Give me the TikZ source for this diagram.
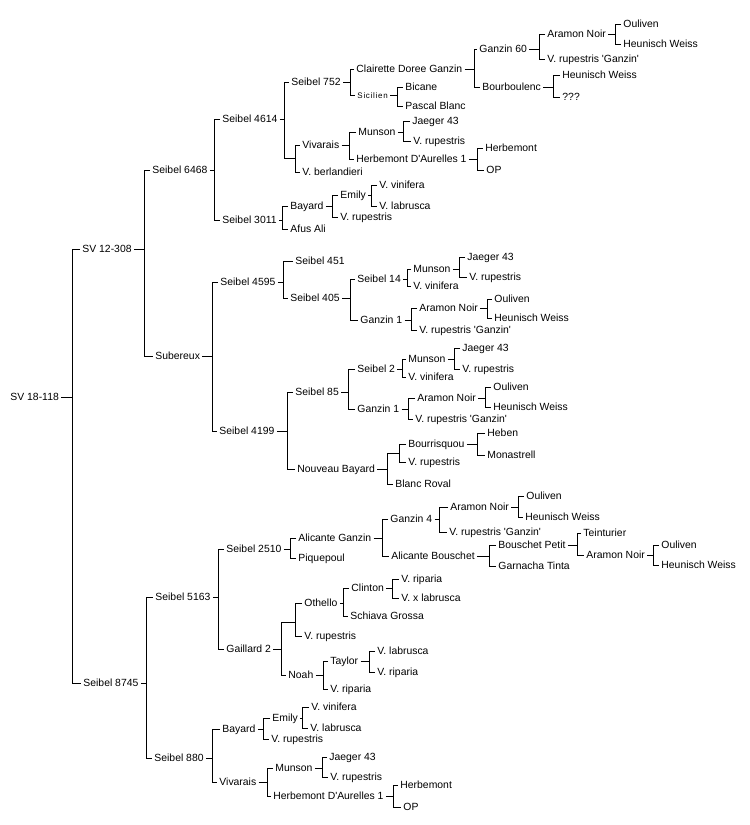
\documentclass[tikz,border=0pt]{standalone}
\usepackage{fontspec}
\setmainfont{Liberation Sans}
\newfontfamily\sicfont[LetterSpace=9]{Liberation Sans}
\usepackage{tikz}

\tikzset{nd/.style={anchor=west,inner xsep=2pt,inner ysep=0pt,xshift=-2pt,text height=7.4pt,text depth=0pt,font=\fontsize{10.4}{12}\selectfont},
jn/.style={inner sep=0pt,minimum size=0pt}}
% bracket from a cultivar to its two parents, vertical bar at x=#2
\newcommand\pedbr[4]{\draw (#1.east) -- (#2pt,0pt |- #1.east) (#3.west) -| (#2pt,0pt |- #4.west) -- (#4.west);}
\newcommand\q{\textquotesingle}

\begin{document}
\begin{tikzpicture}[x=1pt,y=-1pt,line width=0.9pt]
\useasboundingbox (0,0) rectangle (750,825);

\node[nd] (sv18) at (10,397) {SV 18-118};
\node[nd] (sv12) at (82,249) {SV 12-308};
\node[nd] (s8745) at (83,683) {Seibel 8745};
\pedbr{sv18}{72}{sv12}{s8745}

\node[nd] (s6468) at (152,170) {Seibel 6468};
\node[nd] (sub) at (155,356) {Subereux};
\pedbr{sv12}{144}{s6468}{sub}

\node[nd] (s4614) at (222,119) {Seibel 4614};
\node[nd] (s3011) at (222,220) {Seibel 3011};
\pedbr{s6468}{214}{s4614}{s3011}

\node[nd] (s752) at (291,82) {Seibel 752};
\node[jn] (j1) at (295,158) {};
\pedbr{s4614}{284}{s752}{j1}

\node[nd] (cdg) at (356,69) {Clairette Doree Ganzin};
\node[nd,font=\sicfont\fontsize{8}{10}\selectfont] (sic) at (357,95) {Sicilien};
\pedbr{s752}{350}{cdg}{sic}

\node[nd] (g60) at (479,49) {Ganzin 60};
\node[nd] (bourb) at (482,87) {Bourboulenc};
\pedbr{cdg}{474}{g60}{bourb}

\node[nd] (an1) at (547,34) {Aramon Noir};
\node[nd] (vrg1) at (547,59) {V. rupestris \q Ganzin\q};
\pedbr{g60}{539}{an1}{vrg1}

\node[nd] (oul1) at (623,24) {Ouliven};
\node[nd] (hw1) at (623,44) {Heunisch Weiss};
\pedbr{an1}{615}{oul1}{hw1}

\node[nd] (hw2) at (562,75) {Heunisch Weiss};
\node[nd] (unk) at (562,97) {???};
\pedbr{bourb}{553}{hw2}{unk}

\node[nd] (bic) at (405,87) {Bicane};
\node[nd] (pb) at (405,106) {Pascal Blanc};
\pedbr{sic}{397}{bic}{pb}

\node[nd] (viv1) at (302,145) {Vivarais};
\node[nd] (berl) at (302,172) {V. berlandieri};
\pedbr{j1}{295}{viv1}{berl}

\node[nd] (mun1) at (358,132) {Munson};
\node[nd] (hda1) at (356,159) {Herbemont D\q Aurelles 1};
\pedbr{viv1}{349}{mun1}{hda1}

\node[nd] (j43a) at (412,121) {Jaeger 43};
\node[nd] (vr1) at (413,141) {V. rupestris};
\pedbr{mun1}{403}{j43a}{vr1}

\node[nd] (herb1) at (485,148) {Herbemont};
\node[nd] (op1) at (486,170) {OP};
\pedbr{hda1}{477}{herb1}{op1}

\node[nd] (bay1) at (290,206) {Bayard};
\node[nd] (afus) at (290,229) {Afus Ali};
\pedbr{s3011}{282}{bay1}{afus}

\node[nd] (emi1) at (340,195) {Emily};
\node[nd] (vr2) at (340,217) {V. rupestris};
\pedbr{bay1}{332}{emi1}{vr2}

\node[nd] (vv1) at (379,185) {V. vinifera};
\node[nd] (vl1) at (379,206) {V. labrusca};
\pedbr{emi1}{371}{vv1}{vl1}

\node[nd] (s4595) at (220,282) {Seibel 4595};
\node[nd] (s4199) at (219,431) {Seibel 4199};
\pedbr{sub}{212}{s4595}{s4199}

\node[nd] (s451) at (295,261) {Seibel 451};
\node[nd] (s405) at (290,298) {Seibel 405};
\pedbr{s4595}{283}{s451}{s405}

\node[nd] (s14) at (357,279) {Seibel 14};
\node[nd] (g1a) at (360,320) {Ganzin 1};
\pedbr{s405}{350}{s14}{g1a}

\node[nd] (mun2) at (413,269) {Munson};
\node[nd] (vv2) at (413,286) {V. vinifera};
\pedbr{s14}{407}{mun2}{vv2}

\node[nd] (j43b) at (467,257) {Jaeger 43};
\node[nd] (vr3) at (469,277) {V. rupestris};
\pedbr{mun2}{459}{j43b}{vr3}

\node[nd] (an2) at (419,308) {Aramon Noir};
\node[nd] (vrg2) at (419,330) {V. rupestris \q Ganzin\q};
\pedbr{g1a}{411}{an2}{vrg2}

\node[nd] (oul2) at (494,299) {Ouliven};
\node[nd] (hw3) at (494,318) {Heunisch Weiss};
\pedbr{an2}{487}{oul2}{hw3}

\node[nd] (s85) at (295,392) {Seibel 85};
\node[nd] (nb) at (297,469) {Nouveau Bayard};
\pedbr{s4199}{287}{s85}{nb}

\node[nd] (s2) at (357,369) {Seibel 2};
\node[nd] (g1b) at (357,409) {Ganzin 1};
\pedbr{s85}{348}{s2}{g1b}

\node[nd] (mun3) at (408,359) {Munson};
\node[nd] (vv3) at (408,377) {V. vinifera};
\pedbr{s2}{402}{mun3}{vv3}

\node[nd] (j43c) at (462,348) {Jaeger 43};
\node[nd] (vr4) at (462,369) {V. rupestris};
\pedbr{mun3}{454}{j43c}{vr4}

\node[nd] (an3) at (417,398) {Aramon Noir};
\node[nd] (vrg3) at (415,419) {V. rupestris \q Ganzin\q};
\pedbr{g1b}{408}{an3}{vrg3}

\node[nd] (oul3) at (493,387) {Ouliven};
\node[nd] (hw4) at (493,407) {Heunisch Weiss};
\pedbr{an3}{485}{oul3}{hw4}

\node[jn] (j2) at (399,453) {};
\node[nd] (br) at (395,484) {Blanc Roval};
\pedbr{nb}{387}{j2}{br}

\node[nd] (bour) at (408,444) {Bourrisquou};
\node[nd] (vr5) at (408,462) {V. rupestris};
\pedbr{j2}{399}{bour}{vr5}

\node[nd] (heb) at (487,433) {Heben};
\node[nd] (mon) at (487,455) {Monastrell};
\pedbr{bour}{477}{heb}{mon}

\node[nd] (s5163) at (155,597) {Seibel 5163};
\node[nd] (s880) at (154,758) {Seibel 880};
\pedbr{s8745}{146}{s5163}{s880}

\node[nd] (s2510) at (226,549) {Seibel 2510};
\node[nd] (gai) at (226,649) {Gaillard 2};
\pedbr{s5163}{218}{s2510}{gai}

\node[nd] (ag) at (298,538) {Alicante Ganzin};
\node[nd] (piq) at (298,558) {Piquepoul};
\pedbr{s2510}{290}{ag}{piq}

\node[nd] (g4) at (390,519) {Ganzin 4};
\node[nd] (ab) at (391,556) {Alicante Bouschet};
\pedbr{ag}{382}{g4}{ab}

\node[nd] (an4) at (450,507) {Aramon Noir};
\node[nd] (vrg4) at (449,532) {V. rupestris \q Ganzin\q};
\pedbr{g4}{439}{an4}{vrg4}

\node[nd] (oul4) at (526,496) {Ouliven};
\node[nd] (hw5) at (525,517) {Heunisch Weiss};
\pedbr{an4}{518}{oul4}{hw5}

\node[nd] (bp) at (498,545) {Bouschet Petit};
\node[nd] (gt) at (498,566) {Garnacha Tinta};
\pedbr{ab}{489}{bp}{gt}

\node[nd] (tein) at (583,533) {Teinturier};
\node[nd] (an5) at (586,555) {Aramon Noir};
\pedbr{bp}{577}{tein}{an5}

\node[nd] (oul5) at (661,545) {Ouliven};
\node[nd] (hw6) at (661,565) {Heunisch Weiss};
\pedbr{an5}{653}{oul5}{hw6}

\node[jn] (j3) at (295,622) {};
\node[nd] (noah) at (288,675) {Noah};
\pedbr{gai}{281}{j3}{noah}

\node[nd] (oth) at (304,603) {Othello};
\node[nd] (vr6) at (304,636) {V. rupestris};
\pedbr{j3}{295}{oth}{vr6}

\node[nd] (cli) at (351,588) {Clinton};
\node[nd] (sg) at (350,616) {Schiava Grossa};
\pedbr{oth}{343}{cli}{sg}

\node[nd] (vri1) at (401,579) {V. riparia};
\node[nd] (vxl) at (401,598) {V. x labrusca};
\pedbr{cli}{392}{vri1}{vxl}

\node[nd] (tay) at (330,661) {Taylor};
\node[nd] (vri2) at (330,689) {V. riparia};
\pedbr{noah}{323}{tay}{vri2}

\node[nd] (vl2) at (377,651) {V. labrusca};
\node[nd] (vri3) at (377,672) {V. riparia};
\pedbr{tay}{369}{vl2}{vri3}

\node[nd] (bay2) at (222,729) {Bayard};
\node[nd] (viv2) at (219,782) {Vivarais};
\pedbr{s880}{212}{bay2}{viv2}

\node[nd] (emi2) at (272,718) {Emily};
\node[nd] (vr7) at (271,739) {V. rupestris};
\pedbr{bay2}{263}{emi2}{vr7}

\node[nd] (vv4) at (311,707) {V. vinifera};
\node[nd] (vl3) at (310,728) {V. labrusca};
\pedbr{emi2}{302}{vv4}{vl3}

\node[nd] (mun4) at (275,768) {Munson};
\node[nd] (hda2) at (273,796) {Herbemont D\q Aurelles 1};
\pedbr{viv2}{267}{mun4}{hda2}

\node[nd] (j43d) at (329,757) {Jaeger 43};
\node[nd] (vr8) at (330,777) {V. rupestris};
\pedbr{mun4}{322}{j43d}{vr8}

\node[nd] (herb2) at (400,785) {Herbemont};
\node[nd] (op2) at (403,807) {OP};
\pedbr{hda2}{393}{herb2}{op2}

\end{tikzpicture}
\end{document}
